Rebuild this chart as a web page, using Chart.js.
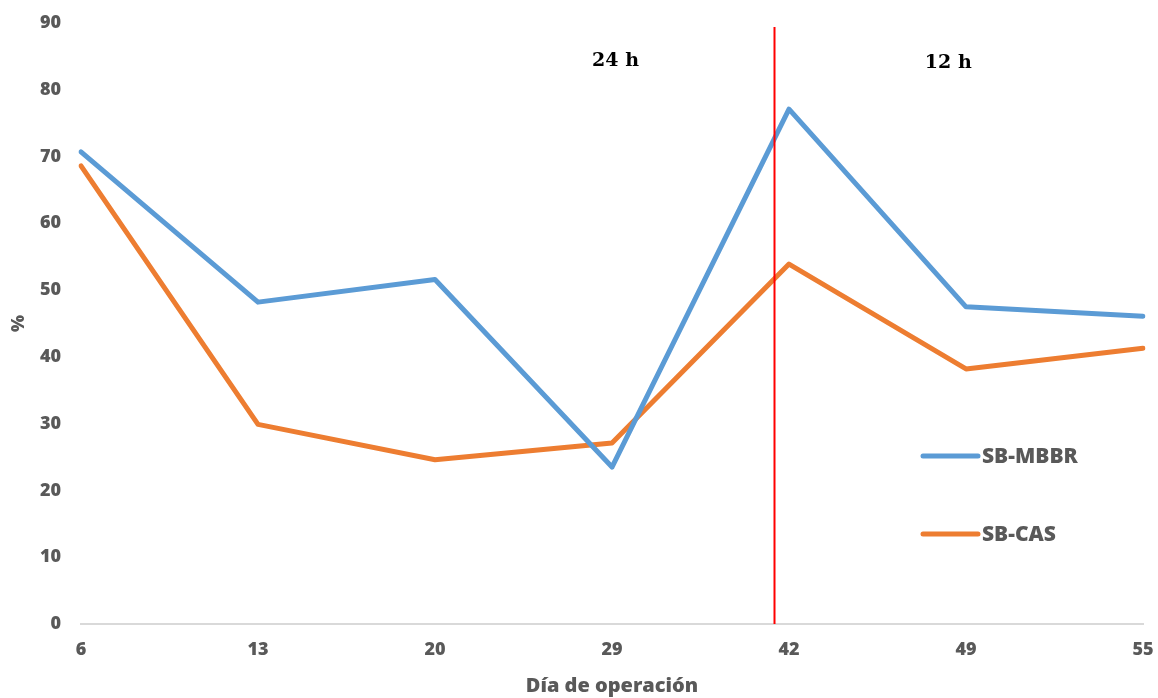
<!DOCTYPE html>
<html>
<head>
<meta charset="utf-8">
<style>
  html, body { margin: 0; padding: 0; background: #ffffff; }
  #wrap { width: 1158px; height: 698px; position: relative; }
</style>
<script src="https://cdn.jsdelivr.net/npm/chart.js@4.4.1/dist/chart.umd.min.js"></script>
</head>
<body>
<div id="wrap"><canvas id="c" width="1158" height="698"></canvas></div>
<script>
// Operating days sampled
const days = ['6', '13', '20', '29', '42', '49', '55'];
// Removal efficiency (%) for each reactor
const sbMbbr = [70.7, 48.2, 51.6, 23.5, 77.1, 47.5, 46.1];
const sbCas = [68.6, 29.9, 24.6, 27.1, 53.9, 38.2, 41.3];
// Hydraulic retention time change (between days 29 and 42)
const hrtChangeIndex = 3.915;
const hrtLabels = ['24 h', '12 h'];
const yTicks = { min: 0, max: 90, step: 10 };

const BLUE = '#5B9BD5';
const ORANGE = '#ED7D31';
const GREY_TEXT = '#595959';
const FONT = '"Open Sans"';

const overlay = {
  id: 'overlay',
  afterDatasetsDraw(chart) {
    const { ctx, chartArea, scales } = chart;
    const xs = scales.x;
    ctx.save();
    // HRT change marker
    const xr = Math.round(xs.getPixelForValue(hrtChangeIndex)) + 0.5;
    ctx.strokeStyle = '#FF0000';
    ctx.lineWidth = 2;
    ctx.beginPath();
    ctx.moveTo(xr, chartArea.top + 4);
    ctx.lineTo(xr, chartArea.bottom);
    ctx.stroke();

    // HRT labels
    ctx.fillStyle = '#000000';
    ctx.font = 'bold 19px "DejaVu Serif"';
    ctx.textAlign = 'center';
    ctx.textBaseline = 'middle';
    ctx.fillText(hrtLabels[0], xs.getPixelForValue(3.02), chartArea.top + 38);
    ctx.fillText(hrtLabels[1], xs.getPixelForValue(4.9), chartArea.top + 40);

    // Legend
    const items = [
      { label: chart.data.datasets[0].label, color: BLUE, y: chartArea.top + 433 },
      { label: chart.data.datasets[1].label, color: ORANGE, y: chartArea.top + 511 }
    ];
    const lx0 = chartArea.right - 220;
    ctx.lineCap = 'round';
    ctx.lineWidth = 5;
    ctx.font = '800 21px ' + FONT;
    ctx.textAlign = 'left';
    items.forEach(it => {
      ctx.strokeStyle = it.color;
      ctx.beginPath();
      ctx.moveTo(lx0, it.y);
      ctx.lineTo(lx0 + 55, it.y);
      ctx.stroke();
      ctx.fillStyle = GREY_TEXT;
      ctx.fillText(it.label, lx0 + 59, it.y + 1);
    });
    ctx.restore();
  }
};

new Chart(document.getElementById('c'), {
  type: 'line',
  data: {
    labels: days,
    datasets: [
      { label: 'SB-MBBR', data: sbMbbr, borderColor: BLUE, backgroundColor: BLUE },
      { label: 'SB-CAS', data: sbCas, borderColor: ORANGE, backgroundColor: ORANGE }
    ]
  },
  options: {
    responsive: false,
    animation: false,
    devicePixelRatio: 1,
    layout: { padding: { top: 23, right: 0, bottom: 0, left: 0 } },
    elements: {
      line: { borderWidth: 5, tension: 0, borderJoinStyle: 'round', borderCapStyle: 'round' },
      point: { radius: 0, hoverRadius: 0 }
    },
    plugins: {
      legend: { display: false },
      tooltip: { enabled: false }
    },
    scales: {
      x: {
        type: 'category',
        offset: false,
        grid: { display: false, drawTicks: false },
        border: { display: true, color: '#D9D9D9', width: 2 },
        ticks: {
          color: GREY_TEXT,
          font: { family: FONT, size: 18, weight: '800' },
          padding: 15,
          maxRotation: 0,
          autoSkip: false
        },
        title: {
          display: true,
          text: 'Día de operación',
          color: GREY_TEXT,
          font: { family: FONT, size: 20, weight: '800' },
          padding: { top: 6, bottom: 0 }
        },
        afterFit(scale) {
          scale.height = 74;
          scale.paddingLeft = 0;
          scale.paddingRight = 15;
        }
      },
      y: {
        min: yTicks.min,
        max: yTicks.max,
        grid: { display: false, drawTicks: false },
        border: { display: false },
        ticks: {
          stepSize: yTicks.step,
          color: GREY_TEXT,
          font: { family: FONT, size: 18, weight: '800' },
          padding: 20
        },
        title: {
          display: true,
          text: '%',
          color: GREY_TEXT,
          font: { family: FONT, size: 18, weight: '800' },
          padding: { top: 8, bottom: 10 }
        },
        afterFit(scale) {
          scale.width = 81;
          scale.paddingTop = 0;
          scale.paddingBottom = 0;
        }
      }
    }
  },
  plugins: [overlay]
});
</script>
</body>
</html>
